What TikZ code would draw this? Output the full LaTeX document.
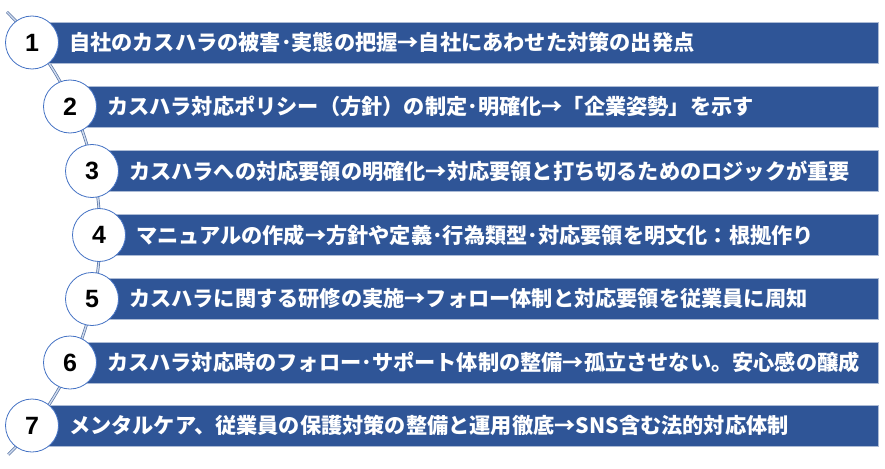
\documentclass[tikz,border=0pt]{standalone}
\usepackage{fontspec}
\usepackage{xcolor}
\usepackage{tikz}
\usetikzlibrary{positioning}
\newfontfamily\jpfont{Noto Sans CJK JP}
\newfontfamily\numfont{Liberation Sans}
\definecolor{barblue}{RGB}{47,85,151}
\definecolor{ringblue}{RGB}{68,114,196}
\definecolor{railblue}{RGB}{84,112,160}
\tikzset{
	bar/.style={fill=barblue,draw=barblue!40!white,line width=0.5pt},
	num/.style={circle,fill=white,draw=ringblue,line width=0.8pt,minimum size=53pt,inner sep=0pt,font=\numfont\bfseries\fontsize{25}{25}\selectfont},
	txt/.style={text=white,inner sep=0pt,anchor=west,font=\jpfont\bfseries\fontsize{21.2}{21.2}\selectfont}
}
\begin{document}
\begin{tikzpicture}[x=1pt,y=-1pt]
	\useasboundingbox (0,0) rectangle (885,468);
	\coordinate (railtop) at (7,12);
	\draw[railblue,line width=0.7pt,double=white!75!ringblue,double distance=1.4pt] (railtop) arc[start angle=-45.45,end angle=45.1,radius=311.5];
	\fill[bar] (32,22) rectangle (878,63);
	\fill[bar] (70,86) rectangle (878,127);
	\fill[bar] (92,150.5) rectangle (878,191.5);
	\fill[bar] (99,214.5) rectangle (878,255.5);
	\fill[bar] (92,278.5) rectangle (878,319.5);
	\fill[bar] (70,342) rectangle (878,383);
	\fill[bar] (32,405) rectangle (878,446);
	\node[num] (c1) at (32,42.5) {1};
	\node[num] (c2) at (70,106.5) {2};
	\node[num] (c3) at (92,171) {3};
	\node[num] (c4) at (99,235) {4};
	\node[num] (c5) at (92,299) {5};
	\node[num] (c6) at (70,362.5) {6};
	\node[num] (c7) at (32,425.5) {7};
	\node[txt,right=10pt of c1] (t1) {自社のカスハラの被害･実態の把握→自社にあわせた対策の出発点};
	\node[txt,right=10pt of c2] (t2) {カスハラ対応ポリシー（方針）の制定･明確化→「企業姿勢」を示す};
	\node[txt,right=10pt of c3] (t3) {カスハラへの対応要領の明確化→対応要領と打ち切るためのロジックが重要};
	\node[txt,right=10pt of c4] (t4) {マニュアルの作成→方針や定義･行為類型･対応要領を明文化：根拠作り};
	\node[txt,right=10pt of c5] (t5) {カスハラに関する研修の実施→フォロー体制と対応要領を従業員に周知};
	\node[txt,right=10pt of c6] (t6) {カスハラ対応時のフォロー･サポート体制の整備→孤立させない。安心感の醸成};
	\node[txt,right=10pt of c7] (t7) {メンタルケア、従業員の保護対策の整備と運用徹底→SNS含む法的対応体制};
\end{tikzpicture}
\end{document}
